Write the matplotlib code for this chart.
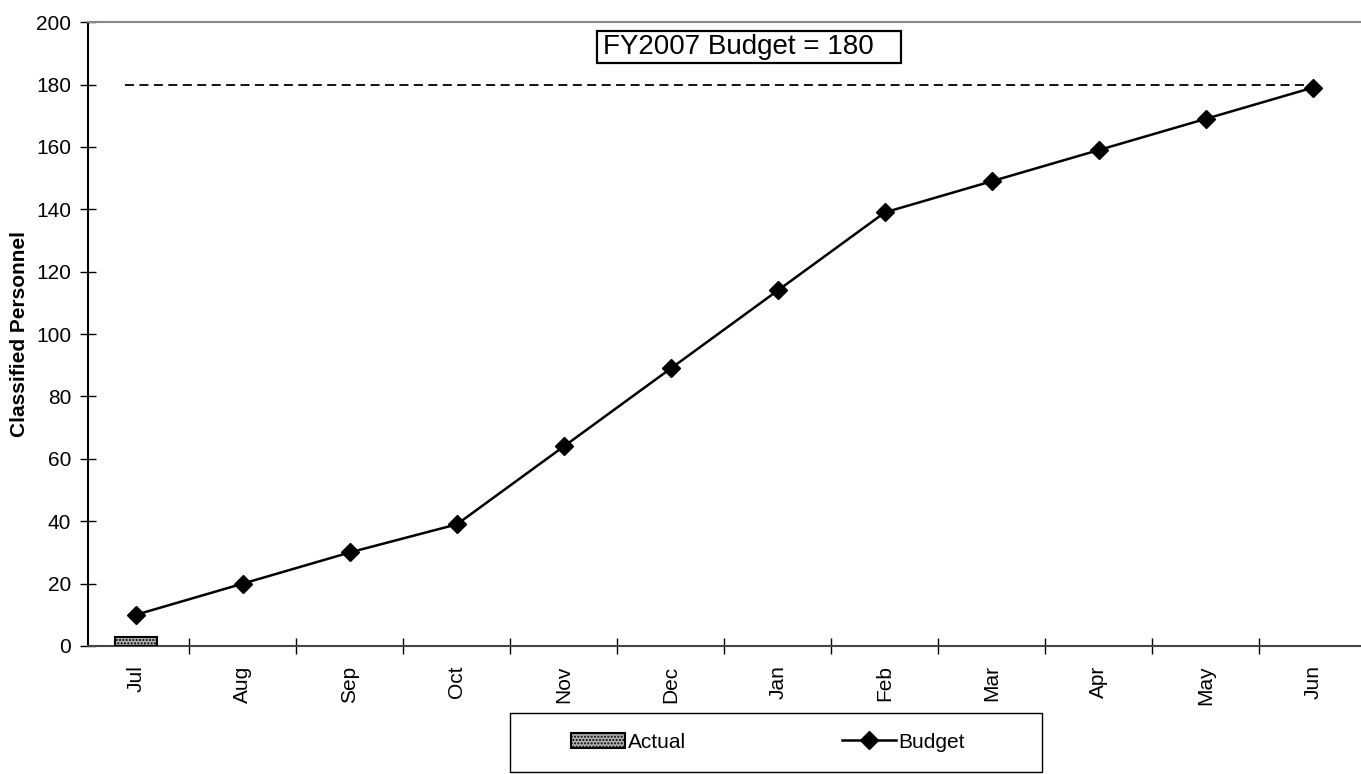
import matplotlib.pyplot as plt
import numpy as np
from matplotlib.ticker import FixedLocator, NullFormatter
from matplotlib.patches import Rectangle

plt.rcParams['font.family'] = ['Liberation Sans', 'DejaVu Sans']

# datos
meses = ['Jul', 'Aug', 'Sep', 'Oct', 'Nov', 'Dec', 'Jan', 'Feb', 'Mar', 'Apr', 'May', 'Jun']
budget = [10, 20, 30, 39, 64, 89, 114, 139, 149, 159, 169, 179]
actual = [3]
meta = 180

W, H = 1361, 774
fig = plt.figure(figsize=(W / 100, H / 100), dpi=100)
ax = fig.add_axes([0.0645, 0.1654, 0.9355, 0.806])

x = np.arange(len(meses))

# barra real (solo julio)
barras = ax.bar(x[:len(actual)], actual, width=0.4, color='#b0b0b0', edgecolor='black',
                linewidth=1.5, hatch='.....', label='Actual', zorder=3)

# linea de presupuesto
linea, = ax.plot(x, budget, color='black', linewidth=1.8, marker='D', markersize=9,
                 label='Budget', zorder=4)

# linea punteada de meta
ax.plot([x[0] - 0.1, x[-1]], [meta, meta], color='black', linestyle=(0, (5, 3)),
        linewidth=1.3, zorder=2)

# cuadro de texto (caja algo mas ancha que el texto, como en el original)
ax.add_patch(Rectangle((4.31, 186.9), 2.845, 10.2, fill=True, facecolor='white',
                       edgecolor='black', linewidth=1.6, zorder=5))
ax.text(4.37, 192, 'FY2007 Budget = 180', fontsize=20, ha='left', va='center',
        zorder=6)

ax.set_xlim(-0.45, 11.45)
ax.set_ylim(0, 200)
ax.set_yticks(range(0, 201, 20))
ax.set_xticks(x)
ax.set_xticklabels(meses, rotation=90, fontsize=15)
ax.tick_params(axis='x', which='major', length=0, pad=14)
ax.xaxis.set_minor_locator(FixedLocator(x[1:] - 0.5))
ax.xaxis.set_minor_formatter(NullFormatter())
ax.tick_params(axis='x', which='minor', direction='inout', length=12, width=1)
ax.tick_params(axis='y', direction='inout', length=12, width=1, labelsize=15, pad=6)

ax.set_ylabel('Classified Personnel', fontsize=15, fontweight='bold', labelpad=5)

ax.spines['top'].set_color('#888888')
ax.spines['top'].set_linewidth(1.5)
ax.spines['right'].set_visible(False)
ax.spines['left'].set_linewidth(1.5)
ax.spines['bottom'].set_linewidth(1.5)
ax.spines['bottom'].set_color('#444444')

# leyenda sin marco, con caja aparte
leg = fig.legend([barras, linea], ['Actual', 'Budget'], loc='center',
                 bbox_to_anchor=(768 / W, 1 - 742 / H), ncol=2, frameon=False,
                 fontsize=15, columnspacing=7.5, handlelength=2.6, handletextpad=0.1)
fig.patches.append(Rectangle((510 / W, 1 - 772 / H), 532 / W, 59 / H,
                             transform=fig.transFigure, fill=False,
                             edgecolor='black', linewidth=1))

fig.savefig('out.png', dpi=100)
